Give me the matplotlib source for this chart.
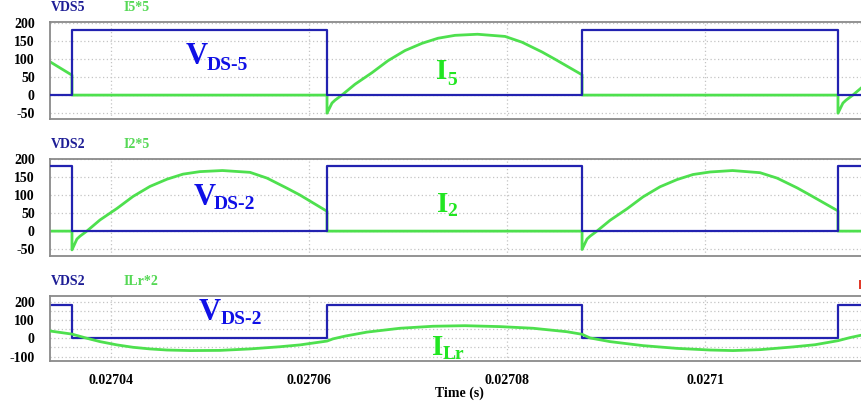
import numpy as np
import matplotlib
matplotlib.use("Agg")
import matplotlib.pyplot as plt
from matplotlib.ticker import MultipleLocator
from matplotlib.patches import Rectangle

# ---------------- data (time in microseconds) ----------------
sw_t_us = [27033.84, 27036.06, 27061.82, 27087.58, 27113.43, 27117.68]
vds5 = [0, 180, 0, 180, 0, 0]
vds2 = [180, 0, 180, 0, 180, 180]

i5_t_us = [27033.84, 27036.06, 27036.06, 27061.82, 27061.82,
           27062.32, 27062.63, 27063.32, 27064.65, 27066.37, 27067.98, 27069.70,
           27071.42, 27073.03, 27074.75, 27077.02, 27079.80, 27081.52, 27083.54,
           27084.85, 27087.58, 27087.58, 27113.43, 27113.43,
           27113.93, 27114.24, 27114.93, 27116.26, 27117.98]
i5_val = [92, 55, 0, 0, -50,
          -22, -14, 0, 30, 62, 95, 123,
          143, 157, 165, 168, 162, 146, 119,
          99, 56, 0, 0, -50,
          -22, -14, 0, 31, 63]

i2_t_us = [27033.84, 27036.06, 27036.06,
           27036.56, 27036.87, 27037.56, 27038.89, 27040.61, 27042.22, 27043.94,
           27045.66, 27047.27, 27048.99, 27051.26, 27054.04, 27055.76, 27057.78,
           27059.09, 27061.82, 27061.82, 27087.58, 27087.58,
           27088.08, 27088.39, 27089.08, 27090.41, 27092.13, 27093.74, 27095.46,
           27097.18, 27098.79, 27100.51, 27102.78, 27105.56, 27107.28, 27109.30,
           27110.61, 27113.43, 27113.43, 27117.68]
i2_val = [0, 0, -52,
          -22, -14, 0, 31, 63, 96, 124,
          144, 158, 165, 168, 163, 147, 119,
          100, 55, 0, 0, -51,
          -22, -14, 0, 30, 62, 95, 123,
          143, 157, 164, 168, 162, 147, 120,
          100, 56, 0, 0]

ilr_t_us = [27033.84, 27036.06, 27037.58, 27038.89, 27040.61, 27042.22, 27043.94,
            27045.66, 27047.98, 27051.01, 27054.04, 27057.07, 27059.09, 27061.82,
            27062.42, 27063.64, 27065.86, 27069.19, 27072.53, 27075.76, 27079.29,
            27082.63, 27086.06, 27087.58, 27088.38, 27090.40, 27093.74, 27097.17,
            27100.51, 27102.83, 27105.56, 27108.89, 27111.11, 27113.43, 27114.65,
            27115.86, 27117.68]
ilr_val = [40, 23, 0, -18, -36, -49, -58,
           -64, -67, -66, -58, -46, -36, -15,
           -3, 12, 34, 55, 66, 69, 64,
           55, 36, 22, 2, -18, -40, -55,
           -64, -67, -62, -47, -35, -13, 4,
           18, 34]

x_ticks = [0.02704, 0.02706, 0.02708, 0.0271]
x_tick_labels = ["0.02704", "0.02706", "0.02708", "0.0271"]
y_ticks_12 = [200, 150, 100, 50, 0, -50]
y_ticks_3 = [200, 100, 0, -100]

labels_p1 = ("VDS5", "I5*5")
labels_p2 = ("VDS2", "I2*5")
labels_p3 = ("VDS2", "ILr*2")

# ---------------- styling ----------------
W, H = 862, 408
BLUE = "#2222b0"
GREEN = "#4ee04e"
LBL_BLUE = "#1e1e96"
LBL_GREEN = "#55d855"
ANN_BLUE = "#1010e6"
ANN_GREEN = "#22e622"
SERIF = ["Liberation Serif", "DejaVu Serif"]

plt.rcParams["font.family"] = SERIF
plt.rcParams["font.weight"] = "bold"

fig = plt.figure(figsize=(W / 100, H / 100), dpi=100)

def us(a):
    return np.asarray(a) * 1e-6

xl = (us([27033.84])[0], us([27116.26])[0])

def make_ax(top, bottom, ylim, yticks, minor=None):
    ax = fig.add_axes([50 / W, 1 - bottom / H, (866 - 50) / W, (bottom - top) / H])
    ax.set_xlim(*xl)
    ax.set_ylim(*ylim)
    ax.set_yticks(yticks)
    ax.set_yticklabels([str(v) for v in yticks], fontsize=10, fontweight="bold")
    ax.set_xticks(x_ticks)
    if minor:
        ax.yaxis.set_minor_locator(MultipleLocator(minor))
    ax.tick_params(axis="both", which="both", length=0, pad=11)
    ax.grid(True, which="both", color="#c4c4c4", linestyle=(0, (1, 2)), linewidth=0.9)
    ax.set_axisbelow(True)
    for s in ax.spines.values():
        s.set_color("#8a8a8a")
        s.set_linewidth(1.3)
    return ax

ax1 = make_ax(22.3, 119, (-66, 201), y_ticks_12)
ax2 = make_ax(159, 256, (-69, 200), y_ticks_12)
ax3 = make_ax(295.7, 361, (-124, 233), y_ticks_3, minor=50)

for ax in (ax1, ax2):
    ax.set_xticklabels([])
ax3.set_xticklabels(x_tick_labels, fontsize=10, fontweight="bold")
ax3.tick_params(axis="x", pad=9)

ax1.plot(us(sw_t_us), vds5, drawstyle="steps-post", color=BLUE, lw=1.6, zorder=3)
ax1.plot(us(i5_t_us), i5_val, color=GREEN, lw=2.0, zorder=2)
ax2.plot(us(sw_t_us), vds2, drawstyle="steps-post", color=BLUE, lw=1.6, zorder=3)
ax2.plot(us(i2_t_us), i2_val, color=GREEN, lw=2.0, zorder=2)
ax3.plot(us(sw_t_us), vds2, drawstyle="steps-post", color=BLUE, lw=1.6, zorder=2)
ax3.plot(us(ilr_t_us), ilr_val, color=GREEN, lw=2.0, zorder=3)

fig.text(459 / W, 1 - 397 / H, "Time (s)", ha="center", va="baseline",
         fontsize=10, fontweight="bold")

def ftxt(x, y, s, **kw):
    fig.text(x / W, 1 - y / H, s, va="baseline", ha="left", fontweight="bold", **kw)

for (a, b), yb in ((labels_p1, 11), (labels_p2, 148), (labels_p3, 285)):
    ftxt(51, yb, a, fontsize=10, color=LBL_BLUE)
    ftxt(124, yb, b, fontsize=10, color=LBL_GREEN)

# small red fragment of a clipped label at the right edge
fig.patches.append(Rectangle((859 / W, 1 - 289 / H), 3 / W, 9 / H,
                             transform=fig.transFigure, color="#e03a2a",
                             linewidth=0))

# big annotations
ftxt(186, 64, "V", fontsize=22, color=ANN_BLUE)
ftxt(207, 70, "DS-5", fontsize=14, color=ANN_BLUE)
ftxt(436, 79, "I", fontsize=21, color=ANN_GREEN)
ftxt(447, 85, "5", fontsize=14, color=ANN_GREEN)

ftxt(194, 205, "V", fontsize=22, color=ANN_BLUE)
ftxt(214, 209, "DS-2", fontsize=14, color=ANN_BLUE)
ftxt(437, 212, "I", fontsize=21, color=ANN_GREEN)
ftxt(447, 216, "2", fontsize=14, color=ANN_GREEN)

ftxt(199, 320, "V", fontsize=22, color=ANN_BLUE)
ftxt(221, 324, "DS-2", fontsize=14, color=ANN_BLUE)
ftxt(432, 355, "I", fontsize=21, color=ANN_GREEN)
ftxt(443, 359, "Lr", fontsize=14, color=ANN_GREEN)

fig.savefig("out.png", dpi=100)
